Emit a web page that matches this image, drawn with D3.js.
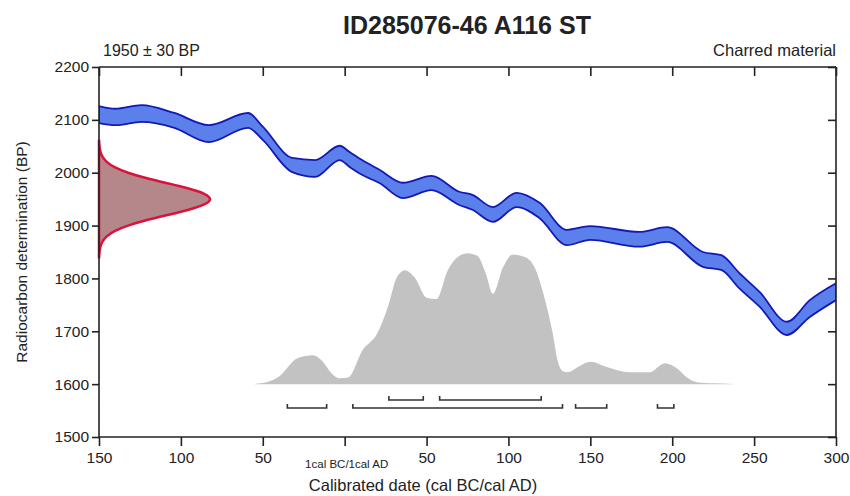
<!DOCTYPE html>
<html>
<head>
<meta charset="utf-8">
<script src="https://cdn.jsdelivr.net/npm/d3@7"></script>
<style>
  body { margin: 0; background: #fff; }
  text { font-family: "Liberation Sans", Arial, sans-serif; fill: #222; }
</style>
</head>
<body>
<svg id="chart" width="850" height="496"></svg>
<script>
// calibration curve (cal years, negative = BC) with upper / lower BP edges
var curveYears = [-150, -140, -124, -104, -83, -59, -50, -32, -18, -3, 3, 10.6, 21.5, 35.6, 53, 70, 78, 90.5, 105, 119, 135.7, 149.8, 180, 196.8, 218.7, 230, 241, 253.5, 270, 284, 300];
var curveUpper = [2126, 2121, 2128, 2113, 2090, 2113, 2087, 2028, 2024, 2051, 2039, 2024, 2005, 1981, 1994, 1964, 1958, 1935, 1962, 1943, 1892, 1899, 1888, 1897, 1850, 1844, 1810, 1774, 1718, 1759, 1791];
var curveLower = [2094, 2090, 2096, 2085, 2058, 2085, 2062, 2001, 1992, 2024, 2011, 1996, 1980, 1952, 1967, 1939, 1930, 1907, 1935, 1914, 1863, 1873, 1860, 1869, 1822, 1816, 1781, 1746, 1693, 1727, 1759];

// radiocarbon measurement 1950 +/- 30 BP, relative probability
var bpLevels  = [1840, 1850, 1860, 1870, 1880, 1890, 1900, 1910, 1920, 1930, 1940, 1950, 1960, 1970, 1980, 1990, 2000, 2010, 2020, 2030, 2040, 2050, 2060];
var bpDensity = [0.001, 0.004, 0.011, 0.029, 0.066, 0.135, 0.249, 0.411, 0.607, 0.801, 0.946, 1, 0.946, 0.801, 0.607, 0.411, 0.249, 0.135, 0.066, 0.029, 0.011, 0.004, 0.001];

// calibrated date distribution
var postYears   = [-55, -50, -41, -28.5, -19.4, -14, -7.8, -3, 2, 11, 20, 26.4, 32, 36.8, 43, 50, 56, 63, 69, 75, 81, 86, 90.5, 96.6, 102.7, 110, 116, 122, 127, 130, 133, 136, 141, 150, 160, 174, 186, 195.5, 203, 209, 215, 225, 237];
var postDensity = [0.2, 0.8, 5, 20, 22, 18, 8, 4.5, 5, 26, 39, 59, 82, 87, 81, 66, 65, 87, 97, 100, 98, 85, 69, 89, 99, 97, 89, 66, 39, 18, 10, 9, 12, 17, 13, 9, 9, 16, 12, 5, 1.5, 0.6, 0.2];

// highest probability ranges
var range68 = [[27, 48], [58, 120]];
var range95 = [[-35, -11], [5, 133], [141, 160], [191, 201]];

var xTicks = [-150, -100, -50, 0, 50, 100, 150, 200, 250, 300];
var yTicks = [1500, 1600, 1700, 1800, 1900, 2000, 2100, 2200];

var svg = d3.select("#chart");
var mLeft = 99, mRight = 836, mTop = 67, mBottom = 437;

var x = d3.scaleLinear().domain([-150, 300]).range([mLeft, mRight]);
var y = d3.scaleLinear().domain([1500, 2200]).range([mBottom, mTop]);

// title and labels
svg.append("text").text("ID285076-46 A116 ST")
    .attr("x", 467).attr("y", 34)
    .attr("text-anchor", "middle")
    .style("font-weight", "bold")
    .attr("font-size", "25px");

svg.append("text").text("1950 ± 30 BP")
    .attr("x", 103).attr("y", 56)
    .attr("font-size", "16px");

svg.append("text").text("Charred material")
    .attr("x", 836).attr("y", 56)
    .attr("text-anchor", "end")
    .attr("font-size", "16.5px");

svg.append("text").text("Calibrated date (cal BC/cal AD)")
    .attr("x", 423).attr("y", 491)
    .attr("text-anchor", "middle")
    .attr("font-size", "16.5px");

svg.append("text").text("Radiocarbon determination (BP)")
    .attr("transform", "translate(27,252) rotate(-90)")
    .attr("text-anchor", "middle")
    .attr("font-size", "15.5px");

var plot = svg.append("g");

svg.append("clipPath").attr("id", "clip")
  .append("rect").attr("x", mLeft).attr("y", mTop)
    .attr("width", mRight - mLeft).attr("height", mBottom - mTop);

// posterior (grey)
var py = d3.scaleLinear().domain([0, 100]).range([y(1600), y(1600) - 131]);
var post = postYears.map(function(d, i) { return [d, postDensity[i]]; });
plot.append("path")
    .datum(post)
    .attr("fill", "#c2c2c2")
    .attr("d", d3.area()
        .x(function(d) { return x(d[0]); })
        .y0(py(0))
        .y1(function(d) { return py(d[1]); })
        .curve(d3.curveMonotoneX));

// measurement distribution (red)
var px = d3.scaleLinear().domain([0, 1]).range([mLeft, 212]);
var meas = bpLevels.map(function(d, i) { return [d, bpDensity[i]]; });
plot.append("path")
    .datum(meas)
    .attr("fill", "#b4878a")
    .attr("stroke", "#d8143c")
    .attr("stroke-width", 2.5)
    .attr("d", d3.area()
        .y(function(d) { return y(d[0]); })
        .x0(px(0))
        .x1(function(d) { return px(d[1]); })
        .curve(d3.curveBasis));

// calibration curve band (blue)
var band = curveYears.map(function(d, i) { return [d, curveUpper[i], curveLower[i]]; });
plot.append("path")
    .datum(band)
    .attr("clip-path", "url(#clip)")
    .attr("fill", "#5b80ec")
    .attr("stroke", "#1418b4")
    .attr("stroke-width", 1.8)
    .attr("d", d3.area()
        .x(function(d) { return x(d[0]); })
        .y0(function(d) { return y(d[2]); })
        .y1(function(d) { return y(d[1]); })
        .curve(d3.curveMonotoneX));

// range brackets
function drawRanges(ranges, yy) {
  ranges.forEach(function(r) {
    plot.append("path")
        .attr("fill", "none")
        .attr("stroke", "#333")
        .attr("stroke-width", 1.6)
        .attr("d", "M" + x(r[0]) + "," + (yy - 4) + "V" + yy + "H" + x(r[1]) + "V" + (yy - 4));
  });
}
drawRanges(range68, 400);
drawRanges(range95, 408);

// axes
var gL = svg.append("g").attr("transform", "translate(" + mLeft + ",0)")
    .call(d3.axisLeft(y).tickValues(yTicks).tickSize(7).tickPadding(3).tickFormat(d3.format("d")));
var gR = svg.append("g").attr("transform", "translate(" + mRight + ",0)")
    .call(d3.axisLeft(y).tickValues(yTicks).tickSize(8).tickFormat(""));
var gT = svg.append("g").attr("transform", "translate(0," + mTop + ")")
    .call(d3.axisBottom(x).tickValues(xTicks).tickSize(9).tickFormat(""));
var gB = svg.append("g").attr("transform", "translate(0," + mBottom + ")")
    .call(d3.axisBottom(x).tickValues(xTicks).tickSize(9).tickPadding(6)
      .tickFormat(function(d) { return d == 0 ? "" : Math.abs(d); }));

[gL, gR, gT, gB].forEach(function(g) {
  g.select(".domain").attr("stroke", "#222").attr("stroke-width", 1.6);
  g.selectAll(".tick line").attr("stroke", "#222").attr("stroke-width", 1.6);
  g.selectAll("text").attr("font-size", "15.5px").style("fill", "#222")
      .attr("font-family", "Liberation Sans, Arial, sans-serif");
});
// keep the frame lines plain, without the outer end caps
gL.select(".domain").attr("d", "M0," + mTop + "V" + mBottom);
gR.select(".domain").attr("d", "M0," + mTop + "V" + mBottom);
gT.select(".domain").attr("d", "M" + mLeft + ",0H" + mRight);
gB.select(".domain").attr("d", "M" + mLeft + ",0H" + mRight);

svg.append("text").text("1cal BC/1cal AD")
    .attr("x", x(0) + 2).attr("y", 468)
    .attr("text-anchor", "middle")
    .attr("font-size", "11.5px");
</script>
</body>
</html>
